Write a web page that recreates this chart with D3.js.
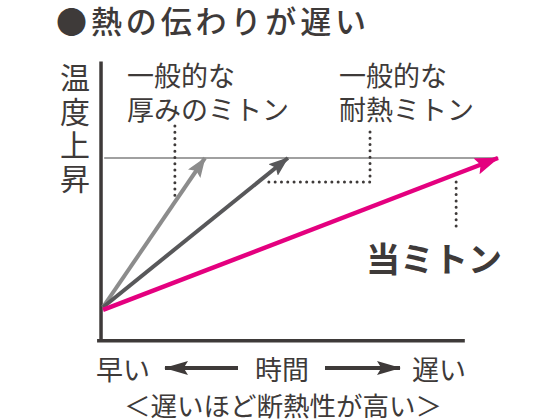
<!DOCTYPE html>
<html>
<head>
<meta charset="utf-8">
<script src="https://cdn.jsdelivr.net/npm/d3@7"></script>
<style>
	body { margin: 0; background: #fff; }
	svg { display: block; font-family: "Noto Sans CJK JP", "Noto Sans", sans-serif; }
</style>
</head>
<body>
<div id="chart"></div>
<script>
// data (time 0-100, temperature 0-100; 100 = the reference level)
let seriesNames = ["厚みのミトン", "耐熱ミトン", "当ミトン"];
let startTemp = [18, 18, 16.5];
let endTime = [25.8, 46.8, 100];
let endTemp = [100, 100, 100];
let seriesColors = ["#8c8c8c", "#58585a", "#e4007f"];
let refLevel = 100;

// label texts
let titleText = "●熱の伝わりが遅い";
let yLabel = "温度上昇";
let label1 = ["一般的な", "厚みのミトン"];
let label2 = ["一般的な", "耐熱ミトン"];
let label3 = "当ミトン";
let xLabels = ["早い", "時間", "遅い"];
let footText = "＜遅いほど断熱性が高い＞";

// leader lines, in data units [time, temp]
let leader1 = [[18.2, 117.6], [18.2, 78]];
let leader2 = [[67.6, 114.3], [67.6, 86.8], [41.5, 86.8]];
let leader3 = [[89.4, 86.8], [89.4, 62.1]];

let W = 560, H = 420;
let ink = "#3e3a39";

let svg = d3.select("#chart").append("svg")
	.attr("width", W)
	.attr("height", H);

let x = d3.scaleLinear().domain([0, 100]).range([103, 498]);
let y = d3.scaleLinear().domain([0, 100]).range([340, 158]);

let defs = svg.append("defs");
function marker(id, color, len, wid) {
	defs.append("marker")
		.attr("id", id)
		.attr("viewBox", "0 0 " + len + " " + wid)
		.attr("refX", len - 1)
		.attr("refY", wid / 2)
		.attr("markerUnits", "userSpaceOnUse")
		.attr("markerWidth", len)
		.attr("markerHeight", wid)
		.attr("orient", "auto-start-reverse")
		.append("path")
		.attr("d", "M0,0 L" + len + "," + (wid / 2) + " L0," + wid + " L" + (len * 0.18) + "," + (wid / 2) + "Z")
		.attr("fill", color);
}
marker("head0", seriesColors[0], 20, 15);
marker("head1", seriesColors[1], 20, 15);
marker("head2", seriesColors[2], 24, 17);
marker("headInk", ink, 24, 14);

// title
svg.append("text")
	.attr("x", 56)
	.attr("y", 19)
	.attr("dominant-baseline", "central")
	.attr("font-size", 31)
	.attr("font-weight", 500)
	.attr("fill", ink)
	.attr("textLength", 310)
	.text(titleText);

// axes
let line = d3.line().x(d => x(d[0])).y(d => y(d[1]));
svg.append("path")
	.attr("d", line([[-0.5, 153], [-0.5, -1]]))
	.attr("stroke", ink)
	.attr("stroke-width", 3.5)
	.attr("fill", "none");
svg.append("path")
	.attr("d", line([[-1.5, -0.4], [91.6, -0.4]]))
	.attr("stroke", ink)
	.attr("stroke-width", 3.5)
	.attr("fill", "none");

// reference level
svg.append("path")
	.attr("d", line([[0.3, refLevel], [100, refLevel]]))
	.attr("stroke", "#808080")
	.attr("stroke-width", 1.5)
	.attr("fill", "none");

// leader lines
[leader1, leader2, leader3].forEach(pts => {
	svg.append("path")
		.attr("d", line(pts))
		.attr("stroke", ink)
		.attr("stroke-width", 3)
		.attr("stroke-linecap", "round")
		.attr("stroke-dasharray", "0 6.3")
		.attr("fill", "none");
});

// series arrows (magenta last, on top)
seriesNames.forEach((name, i) => {
	svg.append("path")
		.attr("class", "series")
		.attr("d", line([[0, startTemp[i]], [endTime[i], endTemp[i]]]))
		.attr("stroke", seriesColors[i])
		.attr("stroke-width", i == 2 ? 4.5 : 4)
		.attr("fill", "none")
		.attr("marker-end", "url(#head" + i + ")");
});

// y label (vertical)
svg.append("text")
	.attr("x", 75)
	.attr("y", 63)
	.attr("writing-mode", "vertical-rl")
	.attr("font-size", 30)
	.attr("letter-spacing", 3.5)
	.attr("fill", ink)
	.text(yLabel);

// mitten labels (two lines in one text)
function twoLines(lines, lx) {
	let t = svg.append("text")
		.attr("x", lx)
		.attr("y", 74)
		.attr("dominant-baseline", "central")
		.attr("font-size", 27)
		.attr("fill", ink);
	t.selectAll("tspan")
		.data(lines)
		.enter()
		.append("tspan")
		.attr("x", lx)
		.attr("dy", (d, i) => i == 0 ? 0 : 34)
		.text(d => d);
}
twoLines(label1, 127);
twoLines(label2, 339);

svg.append("text")
	.attr("x", 366)
	.attr("y", 257)
	.attr("dominant-baseline", "central")
	.attr("font-size", 34)
	.attr("font-weight", "bold")
	.attr("fill", ink)
	.text(label3);

// time axis labels
let xl = svg.append("g")
	.attr("font-size", 27)
	.attr("fill", ink);
xl.append("text").attr("x", 96).attr("y", 368)
	.attr("dominant-baseline", "central").text(xLabels[0]);
xl.append("text").attr("x", 282).attr("y", 368).attr("text-anchor", "middle")
	.attr("dominant-baseline", "central").text(xLabels[1]);
xl.append("text").attr("x", 466).attr("y", 368).attr("text-anchor", "end")
	.attr("dominant-baseline", "central").text(xLabels[2]);

svg.append("line")
	.attr("x1", 238).attr("y1", 368).attr("x2", 165).attr("y2", 368)
	.attr("stroke", ink).attr("stroke-width", 4)
	.attr("marker-end", "url(#headInk)");
svg.append("line")
	.attr("x1", 325).attr("y1", 368).attr("x2", 400).attr("y2", 368)
	.attr("stroke", ink).attr("stroke-width", 4)
	.attr("marker-end", "url(#headInk)");

svg.append("text")
	.attr("x", 283)
	.attr("y", 404)
	.attr("text-anchor", "middle")
	.attr("dominant-baseline", "central")
	.attr("font-size", 26.5)
	.attr("fill", ink)
	.text(footText);
</script>
</body>
</html>
